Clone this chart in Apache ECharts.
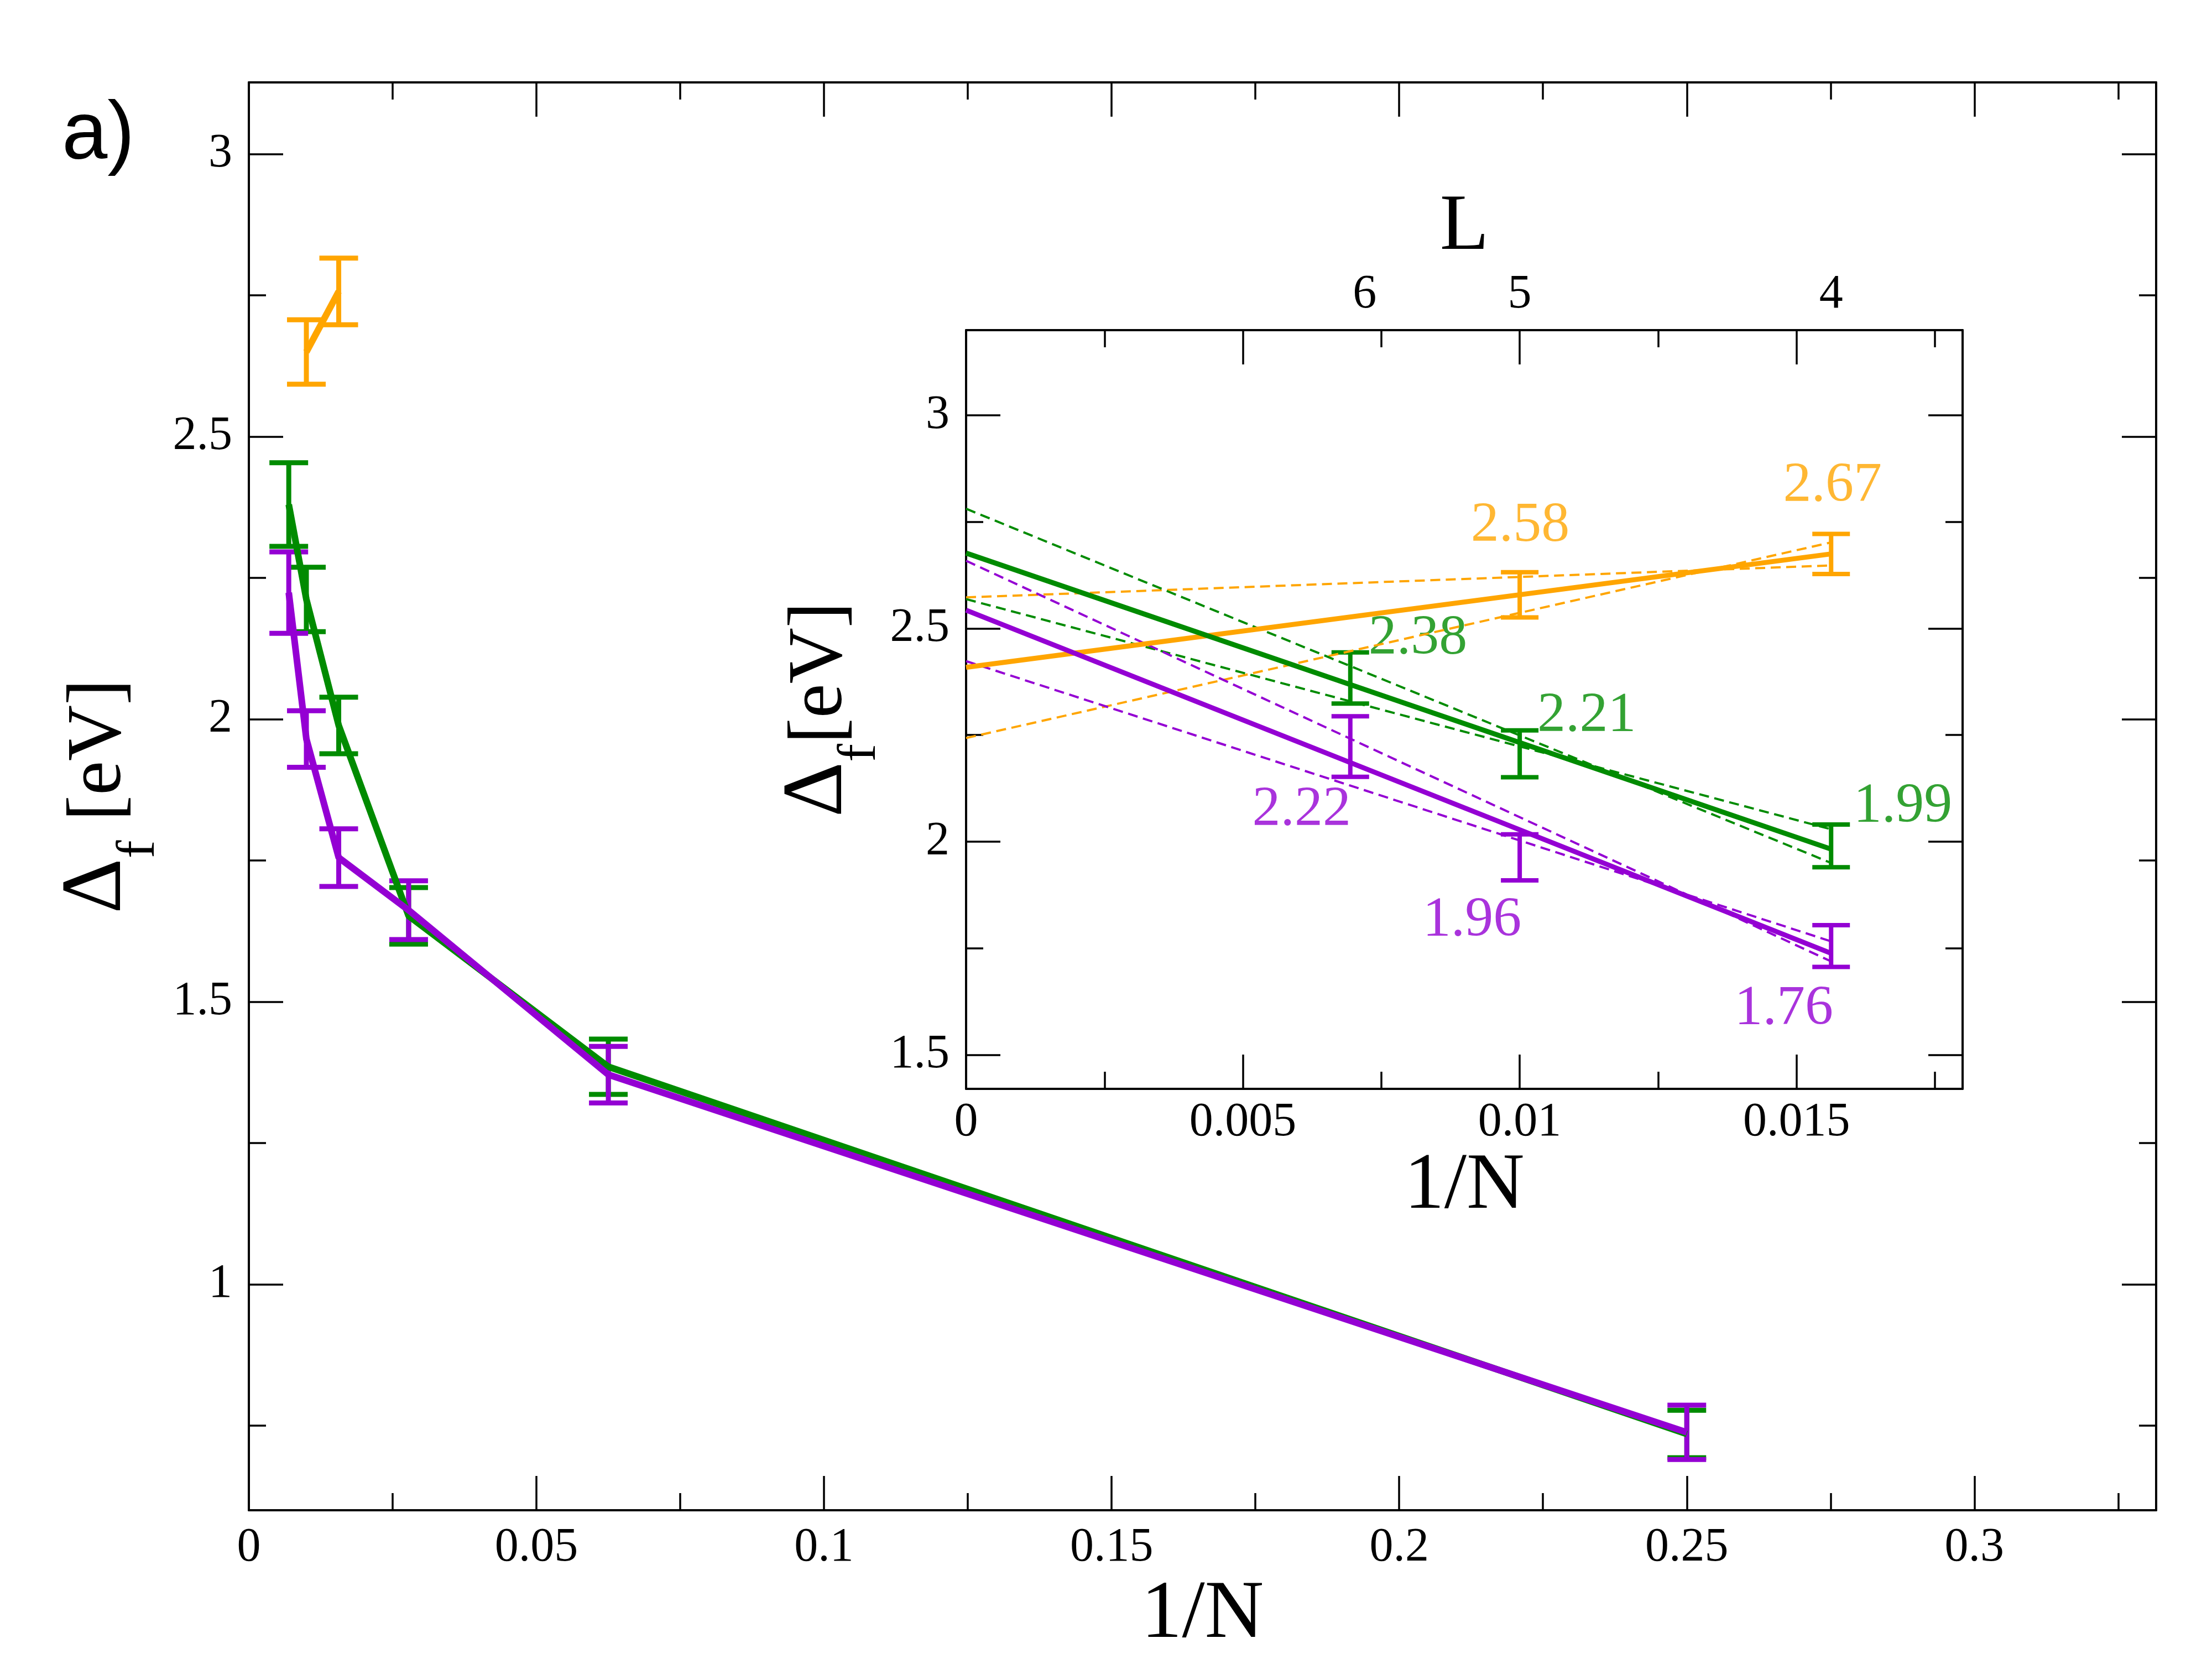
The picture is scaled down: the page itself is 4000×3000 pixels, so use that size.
<!DOCTYPE html>
<html>
<head>
<meta charset="utf-8">
<title>gap vs 1/N</title>
<script src="https://cdn.jsdelivr.net/npm/echarts@6.0.0/dist/echarts.min.js"></script>
<style>
html, body { margin: 0; padding: 0; background: #fff; }
#chart { width: 4000px; height: 3000px; }
</style>
</head>
<body>
<div id="chart"></div>
<script>
// main panel, 1/N for L = 6, 5, 4, 3, 2, 1  (N = 4 L^2)
var main_x = [0.00694, 0.01, 0.015625, 0.02778, 0.0625, 0.25];
var main_green = [2.38, 2.212, 1.989, 1.652, 1.385, 0.735];
var main_green_err = [0.074, 0.057, 0.05, 0.05, 0.049, 0.042];
var main_violet = [2.224, 1.965, 1.755, 1.662, 1.371, 0.738];
var main_violet_err = [0.072, 0.05, 0.051, 0.052, 0.05, 0.048];
var main_orange_x = [0.01, 0.015625];
var main_orange = [2.65, 2.757];
var main_orange_err = [0.057, 0.059];

// inset, L = 6, 5, 4
var inset_x = [0.00694, 0.01, 0.015625];
var inset_green = [2.384, 2.206, 1.99];
var inset_green_err = [0.06, 0.055, 0.05];
var inset_violet = [2.223, 1.963, 1.755];
var inset_violet_err = [0.071, 0.054, 0.049];
var inset_orange_x = [0.01, 0.015625];
var inset_orange = [2.579, 2.675];
var inset_orange_err = [0.053, 0.047];

// straight line extrapolations: value at 1/N = 0 and at 1/N = 1/64
var fit_x = [0, 0.015625];
var fit_orange = [2.409, 2.675];
var fit_orange_a = [2.573, 2.648];
var fit_orange_b = [2.243, 2.702];
var fit_green = [2.677, 1.9825];
var fit_green_a = [2.781, 1.95];
var fit_green_b = [2.569, 2.029];
var fit_violet = [2.543, 1.738];
var fit_violet_a = [2.659, 1.719];
var fit_violet_b = [2.4235, 1.766];

// numbers written in the inset and where they sit (1/N, eV)
var text_orange = ['2.58', '2.67'];
var text_orange_at = [[0.01001, 2.74], [0.01565, 2.834]];
var text_green = ['2.38', '2.21', '1.99'];
var text_green_at = [[0.00816, 2.476], [0.01121, 2.294], [0.01692, 2.081]];
var text_violet = ['2.22', '1.96', '1.76'];
var text_violet_at = [[0.00606, 2.073], [0.00914, 1.814], [0.01477, 1.607]];

// top axis of the inset: L
var L_labels = ['6', '5', '4'];
var L_at = [0.0072, 0.01, 0.015625];

var ORANGE = '#ffa500';
var GREEN = '#008b00';
var VIOLET = '#9400d3';
var SERIF = 'Liberation Serif';

function pairs(xs, ys) {
    var d = [];
    for (var i = 0; i < xs.length; i++)
        d.push([xs[i], ys[i]]);
    return d;
}

function triples(xs, ys, es) {
    var d = [];
    for (var i = 0; i < xs.length; i++)
        d.push([xs[i], ys[i], es[i]]);
    return d;
}

function curve(xs, ys, color, width, dash, xi, yi) {
    return {
        type: 'line',
        xAxisIndex: xi,
        yAxisIndex: yi,
        data: pairs(xs, ys),
        symbol: 'none',
        silent: true,
        lineStyle: { color: color, width: width, type: dash }
    };
}

function error_bars(xs, ys, es, color, width, cap, xi, yi) {
    return {
        type: 'custom',
        xAxisIndex: xi,
        yAxisIndex: yi,
        data: triples(xs, ys, es),
        encode: { x: 0, y: 1 },
        silent: true,
        renderItem: function (params, api) {
            var x = api.value(0), y = api.value(1), e = api.value(2);
            var hi = api.coord([x, y + e]);
            var lo = api.coord([x, y - e]);
            var st = { stroke: color, lineWidth: width };
            return {
                type: 'group',
                children: [
                    { type: 'line', shape: { x1: hi[0], y1: hi[1], x2: lo[0], y2: lo[1] }, style: st },
                    { type: 'line', shape: { x1: hi[0] - cap, y1: hi[1], x2: hi[0] + cap, y2: hi[1] }, style: st },
                    { type: 'line', shape: { x1: lo[0] - cap, y1: lo[1], x2: lo[0] + cap, y2: lo[1] }, style: st }
                ]
            };
        }
    };
}

function numbers(texts, at, color) {
    var d = [];
    for (var i = 0; i < texts.length; i++)
        d.push({ value: at[i], name: texts[i] });
    return {
        type: 'scatter',
        xAxisIndex: 2,
        yAxisIndex: 2,
        symbolSize: 1,
        itemStyle: { color: 'transparent' },
        silent: true,
        data: d,
        label: {
            show: true,
            position: 'inside',
            formatter: '{b}',
            color: color,
            fontFamily: SERIF,
            fontSize: 102
        }
    };
}

function frame_axis(gi, pos, min, max, split, show_label, show_min, margin) {
    return {
        type: 'value',
        gridIndex: gi,
        position: pos,
        min: min,
        max: max,
        splitNumber: split,
        axisLine: { show: true, onZero: false, lineStyle: { color: '#000', width: 4 } },
        axisTick: { show: true, inside: true, length: 62, lineStyle: { color: '#000', width: 3.5 } },
        minorTick: { show: true, splitNumber: 2, length: 31, lineStyle: { color: '#000', width: 3.5 } },
        splitLine: { show: false },
        axisLabel: {
            show: show_label,
            showMinLabel: show_min,
            showMaxLabel: false,
            margin: margin,
            color: '#000',
            fontFamily: SERIF,
            fontSize: 86
        }
    };
}

// Δ, subscript f and the unit, all on a common baseline
var delta_rich = {
    d: { fontFamily: SERIF, fontSize: 155, lineHeight: 155, verticalAlign: 'top', color: '#000' },
    t: { fontFamily: SERIF, fontSize: 140, lineHeight: 140, padding: [12, 0, 0, 0], verticalAlign: 'top', color: '#000' },
    s: { fontFamily: SERIF, fontSize: 98, lineHeight: 98, padding: [105, 0, 0, 0], verticalAlign: 'top', color: '#000' }
};

// main panel axes
var x_main = frame_axis(0, 'bottom', 0, 0.3316, 5, true, true, 25);
x_main.name = '1/N';
x_main.nameLocation = 'middle';
x_main.nameGap = 112;
x_main.nameTextStyle = { fontFamily: SERIF, fontSize: 148, color: '#000' };
var x_main_top = frame_axis(0, 'top', 0, 0.3316, 5, false, false, 0);

var y_main = frame_axis(0, 'left', 0.6, 3.127, 5, true, false, 30);
y_main.name = '{d|Δ}{s|f}{t| [eV]}';
y_main.nameLocation = 'middle';
y_main.nameRotate = 90;
y_main.nameGap = 121;
y_main.nameTextStyle = { rich: delta_rich };
var y_main_right = frame_axis(0, 'right', 0.6, 3.127, 5, false, false, 0);

// inset axes
var x_inset = frame_axis(1, 'bottom', 0, 0.018, 4, true, true, 18);
x_inset.name = '1/N';
x_inset.nameLocation = 'middle';
x_inset.nameGap = 96;
x_inset.nameTextStyle = { fontFamily: SERIF, fontSize: 145, color: '#000' };
var x_inset_top = frame_axis(1, 'top', 0, 0.018, 4, false, false, 0);

var x_inset_L = {
    type: 'value',
    gridIndex: 1,
    position: 'top',
    min: 0,
    max: 0.018,
    name: 'L',
    nameLocation: 'middle',
    nameGap: 113,
    nameTextStyle: { fontFamily: SERIF, fontSize: 145, color: '#000' },
    axisLine: { show: false, onZero: false },
    axisTick: { show: false },
    splitLine: { show: false },
    axisLabel: {
        show: true,
        customValues: L_at,
        margin: 21,
        color: '#000',
        fontFamily: SERIF,
        fontSize: 86,
        formatter: function (v) {
            var best = 0;
            for (var i = 1; i < L_at.length; i++)
                if (Math.abs(L_at[i] - v) < Math.abs(L_at[best] - v))
                    best = i;
            return L_labels[best];
        }
    }
};

var y_inset = frame_axis(1, 'left', 1.42, 3.2, 4, true, false, 30);
y_inset.name = '{d|Δ}{s|f}{t|[eV]}';
y_inset.nameLocation = 'middle';
y_inset.nameRotate = 90;
y_inset.nameGap = 142;
y_inset.nameTextStyle = { rich: delta_rich };
var y_inset_right = frame_axis(1, 'right', 1.42, 3.2, 4, false, false, 0);

var option = {
    animation: false,
    backgroundColor: '#fff',
    title: {
        text: 'a)',
        left: 112,
        top: 172,
        padding: 0,
        textStyle: { fontFamily: 'Liberation Sans', fontSize: 148, fontWeight: 'normal', color: '#000' }
    },
    grid: [
        { left: 450, top: 149, width: 3449, height: 2611 },
        { left: 1747, top: 597, width: 1802, height: 1372, show: true, backgroundColor: '#fff', borderWidth: 0 }
    ],
    xAxis: [x_main, x_main_top, x_inset, x_inset_top, x_inset_L],
    yAxis: [y_main, y_main_right, y_inset, y_inset_right],
    series: [
        // main panel
        curve(main_orange_x, main_orange, ORANGE, 12, 'solid', 0, 0),
        error_bars(main_orange_x, main_orange, main_orange_err, ORANGE, 9, 35, 0, 0),
        curve(main_x, main_green, GREEN, 12, 'solid', 0, 0),
        error_bars(main_x, main_green, main_green_err, GREEN, 9, 35, 0, 0),
        curve(main_x, main_violet, VIOLET, 12, 'solid', 0, 0),
        error_bars(main_x, main_violet, main_violet_err, VIOLET, 9, 35, 0, 0),

        // inset
        curve(fit_x, fit_orange_a, ORANGE, 4, [18, 10], 2, 2),
        curve(fit_x, fit_orange_b, ORANGE, 4, [18, 10], 2, 2),
        curve(fit_x, fit_green_a, GREEN, 4, [18, 10], 2, 2),
        curve(fit_x, fit_green_b, GREEN, 4, [18, 10], 2, 2),
        curve(fit_x, fit_violet_a, VIOLET, 4, [18, 10], 2, 2),
        curve(fit_x, fit_violet_b, VIOLET, 4, [18, 10], 2, 2),
        curve(fit_x, fit_orange, ORANGE, 9, 'solid', 2, 2),
        curve(fit_x, fit_green, GREEN, 9, 'solid', 2, 2),
        curve(fit_x, fit_violet, VIOLET, 9, 'solid', 2, 2),
        error_bars(inset_orange_x, inset_orange, inset_orange_err, ORANGE, 8, 34, 2, 2),
        error_bars(inset_x, inset_green, inset_green_err, GREEN, 8, 34, 2, 2),
        error_bars(inset_x, inset_violet, inset_violet_err, VIOLET, 8, 34, 2, 2),
        numbers(text_orange, text_orange_at, ORANGE),
        numbers(text_green, text_green_at, GREEN),
        numbers(text_violet, text_violet_at, VIOLET)
    ]
};

var chart = echarts.init(document.getElementById('chart'));
chart.setOption(option);
</script>
</body>
</html>
